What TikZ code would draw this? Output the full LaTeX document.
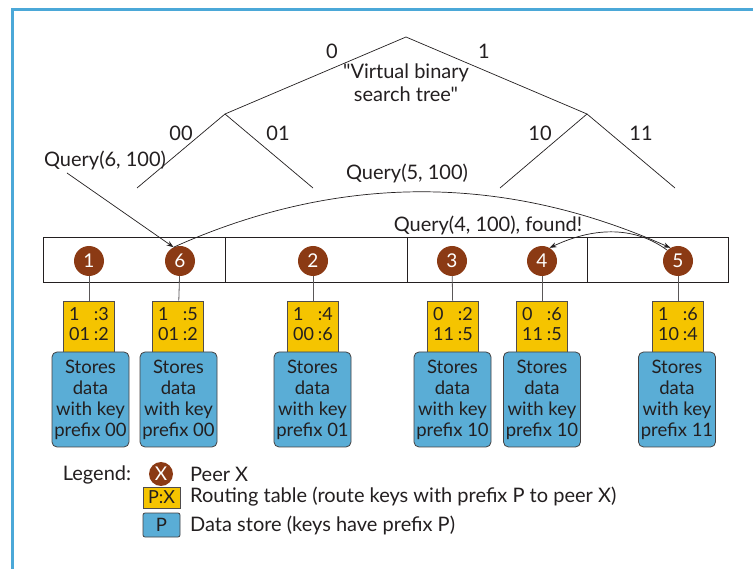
\documentclass[tikz,border=0pt]{standalone}
\usepackage{fontspec}
\setmainfont{Lato}[Ligatures=TeXOff]
\usetikzlibrary{arrows.meta}
\definecolor{brn}{RGB}{139,58,20}
\definecolor{ylw}{RGB}{245,196,0}
\definecolor{dsb}{RGB}{90,173,214}
\definecolor{frm}{RGB}{75,168,216}
\definecolor{txt}{RGB}{35,31,32}
\newcommand{\rtab}[4]{\begin{tabular}{@{}l@{\hspace{4pt}}l@{}}#1&#2\\#3&#4\end{tabular}}
\tikzset{
  peer/.style={circle, fill=brn, text=white, minimum size=30pt, inner sep=0pt, font=\fontsize{19}{21}\selectfont},
  rtable/.style={draw=txt!80, line width=0.6pt, fill=ylw, minimum width=51pt, minimum height=51pt, inner sep=0pt, font=\fontsize{18}{20}\selectfont},
  dstore/.style={draw=txt!85, line width=0.8pt, fill=dsb, rounded corners=5pt, minimum width=77pt, minimum height=95pt, inner sep=0pt, align=center, font=\fontsize{18.5}{21}\selectfont},
  treeline/.style={draw=txt, line width=0.7pt},
  qarrow/.style={draw=txt, line width=0.7pt, -{Stealth[length=7pt,width=5pt]}},
  stem/.style={draw=txt!75, line width=0.8pt},
  lbl/.style={inner sep=0pt}
}
\begin{document}
\begin{tikzpicture}[x=1pt,y=-1pt, font=\fontsize{20}{23}\selectfont, text=txt]
\useasboundingbox (0,0) rectangle (753,569);
\fill[white] (0,0) rectangle (753,569);
% frame
\draw[frm, line width=3pt] (12.5,569) -- (12.5,9.5) -- (753,9.5);

% tree
\coordinate (tr) at (406,37);
\coordinate (tl0) at (225,114);
\coordinate (tl1) at (587,114);
\coordinate (t00) at (137,188);
\coordinate (t01) at (313,188);
\coordinate (t10) at (500,188);
\coordinate (t11) at (675,188);
\draw[treeline] (tr) -- (tl0) (tr) -- (tl1);
\draw[treeline] (tl0) -- (t00) (tl0) -- (t01);
\draw[treeline] (tl1) -- (t10) (tl1) -- (t11);
\node[lbl] (b0) at (332,51) {0};
\node[lbl] (b1) at (484,51) {1};
\node[lbl, align=center] (vbst) at (406,83) {"Virtual binary\\search tree"};
\node[lbl] (b00) at (181,133) {00};
\node[lbl] (b01) at (278,133) {01};
\node[lbl] (b10) at (540,133) {10};
\node[lbl] (b11) at (641,133) {11};

% ring
\draw[draw=txt, line width=0.8pt] (43,237) rectangle (728,282);
\draw[draw=txt, line width=0.8pt] (225,237) -- (225,282) (407,237) -- (407,282) (587,237) -- (587,282);

% peers
\node[peer] (p1) at (89,261) {1};
\node[peer] (p6) at (180,261) {6};
\node[peer] (p2) at (313,261) {2};
\node[peer] (p3) at (452,261) {3};
\node[peer] (p4) at (542,261) {4};
\node[peer] (p5) at (678,261) {5};

% routing tables
\node[rtable] (r1) at (89,326.5) {\rtab{1}{:3}{01}{:2}};
\node[rtable] (r6) at (178,326.5) {\rtab{1}{:5}{01}{:2}};
\node[rtable] (r2) at (313,326.5) {\rtab{1}{:4}{00}{:6}};
\node[rtable] (r3) at (453,326.5) {\rtab{0}{:2}{11}{:5}};
\node[rtable] (r4) at (542,326.5) {\rtab{0}{:6}{11}{:5}};
\node[rtable] (r5) at (678,326.5) {\rtab{1}{:6}{10}{:4}};

% data stores
\node[dstore] (d1) at (90.5,399.5) {Stores\\data\\with key\\prefix 00};
\node[dstore] (d6) at (178.5,399.5) {Stores\\data\\with key\\prefix 00};
\node[dstore] (d2) at (312.5,399.5) {Stores\\data\\with key\\prefix 01};
\node[dstore] (d3) at (452.5,399.5) {Stores\\data\\with key\\prefix 10};
\node[dstore] (d4) at (542,399.5) {Stores\\data\\with key\\prefix 10};
\node[dstore] (d5) at (677,399.5) {Stores\\data\\with key\\prefix 11};

% stems
\foreach \n in {1,6,2,3,4,5} { \draw[stem] (p\n) -- (r\n); }

% queries
\node[lbl] (q6) at (105,160) {Query(6, 100)};
\coordinate (q6s) at (67,173);
\draw[qarrow] (q6s) -- (p6.115);
\node[lbl] (q5) at (407,173) {Query(5, 100)};
\draw[qarrow] (p6.115) .. controls (339,173) and (505,174) .. (p5.120);
\node[lbl] (q4) at (488,225) {Query(4, 100), found!};
\draw[qarrow] (p5.135) .. controls (636,227) and (596,226) .. (p4.60);

% legend
\node[lbl] (lg) at (97,475) {Legend:};
\node[peer, minimum size=24pt] (lgp) at (161,474) {X};
\node[lbl, anchor=west] (lgpt) at (190,474) {Peer X};
\node[rtable, minimum width=37pt, minimum height=21pt] (lgr) at (161.5,497.5) {P:X};
\node[lbl, anchor=west] (lgrt) at (190,497) {Routing table (route keys with prefix P to peer X)};
\node[dstore, minimum width=37pt, minimum height=24pt, rounded corners=2pt] (lgd) at (161.5,525) {P};
\node[lbl, anchor=west] (lgdt) at (190,525) {Data store (keys have prefix P)};
\end{tikzpicture}
\end{document}
